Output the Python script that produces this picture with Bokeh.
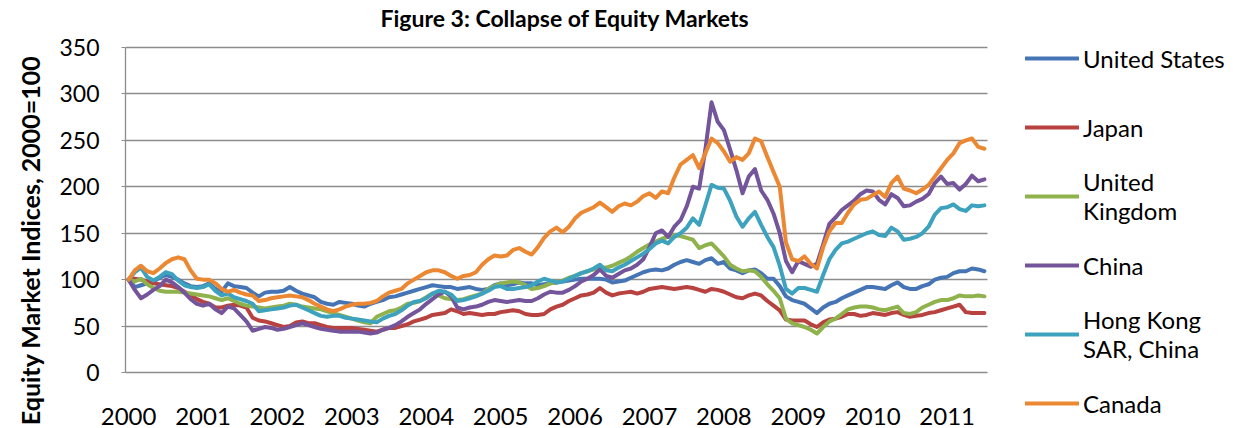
from bokeh.plotting import figure
from bokeh.models import Range1d, FixedTicker, Legend, LegendItem, Title
from bokeh.embed import file_html
from bokeh.resources import INLINE

# ---------------- data (monthly index, Jan 2000 = 100) ----------------
years = ["2000", "2001", "2002", "2003", "2004", "2005",
         "2006", "2007", "2008", "2009", "2010", "2011"]
months_per_year = 12
y_ticks = [0, 50, 100, 150, 200, 250, 300, 350]

united_states = [
    100, 92, 94, 96, 98, 102, 105, 103, 100, 96,
    93, 92, 93, 96, 90, 87, 96, 93, 92, 91,
    86, 82, 86, 87, 87, 88, 92, 88, 85, 83,
    81, 76, 74, 73, 76, 75, 74, 72, 71, 74,
    76, 78, 81, 82, 84, 86, 88, 90, 92, 94,
    93, 92, 92, 90, 91, 92, 90, 89, 90, 94,
    96, 94, 95, 97, 96, 96, 94, 95, 96, 97,
    98, 99, 100, 101, 101, 101, 101, 100, 97, 98,
    99, 102, 105, 108, 110, 111, 110, 112, 116, 119,
    121, 119, 117, 121, 123, 117, 119, 112, 110, 107,
    110, 111, 107, 101, 101, 93, 82, 78, 76, 74,
    69, 64, 70, 74, 76, 80, 83, 86, 89, 92,
    92, 91, 90, 94, 97, 92, 90, 90, 93, 95,
    100, 102, 103, 107, 109, 109, 112, 111, 109]

japan = [
    100, 101, 100, 98, 96, 95, 94, 93, 91, 87,
    84, 79, 76, 74, 70, 70, 72, 73, 72, 70,
    59, 56, 55, 53, 51, 49, 50, 54, 55, 53,
    53, 51, 49, 48, 48, 48, 48, 47, 46, 45,
    44, 46, 48, 48, 50, 52, 55, 57, 59, 62,
    63, 64, 68, 66, 63, 64, 63, 62, 63, 63,
    65, 66, 67, 66, 63, 62, 62, 63, 68, 71,
    73, 77, 80, 83, 84, 86, 91, 86, 83, 85,
    86, 87, 85, 87, 90, 91, 92, 91, 90, 91,
    92, 91, 89, 87, 90, 89, 87, 84, 81, 80,
    83, 85, 83, 77, 72, 67, 57, 56, 56, 56,
    52, 49, 54, 57, 58, 60, 63, 63, 61, 62,
    64, 63, 62, 64, 65, 62, 60, 61, 62, 64,
    65, 67, 69, 71, 73, 65, 64, 64, 64]

united_kingdom = [
    100, 98, 101, 95, 91, 88, 87, 87, 87, 86,
    85, 84, 83, 82, 80, 78, 80, 77, 74, 72,
    71, 70, 69, 70, 71, 72, 74, 73, 71, 70,
    69, 68, 66, 64, 62, 60, 58, 56, 54, 53,
    60, 63, 66, 67, 70, 74, 75, 77, 81, 85,
    83, 80, 79, 78, 79, 81, 83, 85, 90, 93,
    96, 97, 98, 97, 94, 90, 91, 93, 96, 97,
    99, 102, 104, 107, 109, 111, 112, 113, 115, 118,
    121, 125, 130, 134, 138, 141, 144, 146, 148, 147,
    145, 143, 134, 137, 139, 132, 125, 116, 112, 109,
    110, 109, 103, 95, 88, 80, 58, 53, 51, 49,
    46, 42, 49, 55, 58, 63, 68, 70, 71, 71,
    70, 68, 67, 69, 71, 64, 63, 65, 70, 73,
    76, 78, 78, 80, 83, 82, 82, 83, 82]

china = [
    100, 89, 80, 84, 89, 93, 100, 97, 92, 86,
    79, 74, 72, 74, 68, 64, 71, 69, 62, 55,
    45, 47, 49, 48, 46, 47, 49, 51, 53, 51,
    49, 47, 46, 45, 44, 44, 44, 44, 43, 42,
    43, 46, 48, 51, 55, 60, 64, 68, 74, 79,
    84, 87, 82, 70, 68, 70, 71, 73, 76, 78,
    77, 76, 77, 78, 77, 77, 80, 84, 87, 86,
    86, 89, 93, 98, 101, 105, 111, 104, 102, 106,
    110, 112, 116, 122, 135, 150, 153, 146, 157, 164,
    179, 200, 198, 240, 291, 270, 261, 240, 218, 193,
    211, 219, 196, 186, 171, 150, 120, 108, 120, 117,
    114, 117, 138, 160, 167, 175, 180, 185, 192, 196,
    195, 186, 181, 192, 188, 179, 180, 184, 187, 192,
    204, 211, 203, 204, 197, 203, 212, 206, 208]

hong_kong = [
    100, 108, 113, 103, 99, 103, 108, 106, 99, 94,
    92, 91, 92, 95, 88, 83, 85, 81, 79, 77,
    74, 66, 67, 68, 69, 70, 72, 73, 70, 67,
    64, 61, 60, 61, 61, 59, 58, 57, 56, 55,
    54, 58, 61, 63, 67, 72, 76, 77, 80, 85,
    88, 87, 84, 77, 78, 80, 82, 85, 88, 92,
    93, 90, 90, 91, 92, 94, 98, 101, 99, 97,
    98, 101, 104, 107, 109, 112, 116, 110, 109, 113,
    116, 120, 124, 128, 133, 139, 142, 139, 146, 150,
    156, 166, 159, 180, 202, 199, 198, 185, 168, 157,
    166, 173, 159, 146, 135, 115, 90, 85, 91, 91,
    89, 87, 105, 122, 132, 139, 141, 144, 147, 150,
    152, 148, 147, 156, 152, 143, 144, 146, 150, 157,
    170, 177, 178, 181, 176, 174, 180, 179, 180]

canada = [
    100, 110, 115, 109, 107, 112, 118, 122, 124, 122,
    110, 101, 100, 100, 96, 90, 87, 89, 86, 84,
    83, 77, 78, 80, 81, 82, 83, 82, 81, 78,
    74, 71, 68, 66, 68, 71, 73, 74, 74, 75,
    77, 82, 86, 88, 90, 96, 100, 104, 108, 110,
    110, 108, 104, 101, 104, 105, 108, 116, 122, 126,
    125, 126, 132, 134, 130, 127, 135, 145, 152, 156,
    151, 157, 166, 172, 175, 178, 183, 178, 173, 179,
    182, 180, 184, 190, 193, 188, 195, 193, 210, 224,
    229, 234, 220, 236, 252, 247, 238, 227, 232, 229,
    236, 252, 249, 232, 216, 200, 140, 122, 120, 125,
    117, 112, 135, 152, 161, 161, 172, 181, 186, 187,
    191, 195, 189, 204, 211, 198, 196, 193, 197, 202,
    211, 220, 229, 236, 247, 250, 252, 243, 241]

series_names = ["United States", "Japan", "United\nKingdom", "China",
                "Hong Kong\nSAR, China", "Canada"]
series_values = [united_states, japan, united_kingdom, china, hong_kong, canada]
series_colors = ["#4675B6", "#B8423F", "#8FB24C", "#74559C", "#3DA2BD", "#EC8732"]

n = len(united_states)
month_index = list(range(n))

# ---------------- layout constants (pixels) ----------------
FONT = "Lato"
GRID = "#8C8C8C"
W, H = 1233, 428
AXIS_LEFT, PLOT_RIGHT = 121, 983          # data area, horizontally
PLOT_TOP, PLOT_BOTTOM = 47, 372           # y=350 and y=0
FRAME_TOP = 29                            # frame starts higher so the legend can sit at the top
LEGEND_GAP = 38                           # gap between data area and legend glyphs

px_per_month = (PLOT_RIGHT - AXIS_LEFT) / n
x_end = n - 0.5 + LEGEND_GAP / px_per_month
y_max = y_ticks[-1]
y_end = y_max * (PLOT_BOTTOM - FRAME_TOP) / (PLOT_BOTTOM - PLOT_TOP)

p = figure(width=W, height=H, output_backend="svg", toolbar_location=None,
           frame_width=PLOT_RIGHT + LEGEND_GAP - AXIS_LEFT,
           frame_height=PLOT_BOTTOM - FRAME_TOP,
           x_range=Range1d(-0.5, x_end), y_range=Range1d(0, y_end),
           min_border_left=AXIS_LEFT, min_border_right=W - PLOT_RIGHT - LEGEND_GAP,
           min_border_top=FRAME_TOP, min_border_bottom=H - PLOT_BOTTOM,
           background_fill_color="white", border_fill_color="white",
           outline_line_color=None)

p.title.text = "Figure 3: Collapse of Equity Markets"
p.title.align = "left"
p.title.offset = 255
p.title.text_font = FONT
p.title.text_font_size = "23px"
p.title.text_font_style = "bold"
p.title.text_color = "black"
p.title.standoff = -4

items = []
for name, vals, col in zip(series_names, series_values, series_colors):
    r = p.line(month_index, vals, line_color=col, line_width=4,
               line_join="round", line_cap="round")
    items.append(LegendItem(label=name, renderers=[r]))

legend = Legend(items=items, location="top_left", padding=0, margin=0,
                glyph_width=54, glyph_height=20, label_standoff=4,
                label_height=58, spacing=11,
                label_text_font=FONT, label_text_font_size="24px",
                label_text_color="black", border_line_color=None,
                background_fill_alpha=0)
if "ncols" in legend.properties():
    legend.ncols = 1
p.add_layout(legend, "right")

# x axis
p.xaxis.bounds = (-0.5, n - 0.5)
p.xaxis.ticker = FixedTicker(ticks=[k * months_per_year for k in range(len(years))])
p.xaxis.major_label_overrides = {k * months_per_year: y for k, y in enumerate(years)}
p.xaxis.major_tick_out = 0
p.xaxis.major_tick_in = 0
p.xaxis.minor_tick_out = 0
p.xaxis.minor_tick_in = 0
p.xaxis.axis_line_color = GRID
p.xaxis.axis_line_width = 1.3
p.xaxis.major_label_text_font = FONT
p.xaxis.major_label_text_font_size = "24px"
p.xaxis.major_label_text_color = "black"
p.xaxis.major_label_standoff = 35

# y axis
p.yaxis.bounds = (0, y_max)
p.yaxis.ticker = FixedTicker(ticks=y_ticks)
p.yaxis.major_tick_out = 4
p.yaxis.major_tick_in = 0
p.yaxis.minor_tick_out = 0
p.yaxis.minor_tick_in = 0
p.yaxis.major_tick_line_color = GRID
p.yaxis.axis_line_color = GRID
p.yaxis.axis_line_width = 1.3
p.yaxis.major_label_text_font = FONT
p.yaxis.major_label_text_font_size = "23px"
p.yaxis.major_label_text_color = "black"
p.yaxis.major_label_standoff = 22

ytitle = Title(text="Equity Market Indices, 2000=100", align="right",
               text_font=FONT, text_font_size="25px", text_font_style="bold",
               text_color="black", standoff=24, offset=PLOT_TOP - FRAME_TOP + 8)
p.add_layout(ytitle, "left")

# horizontal gridlines limited to the data area
p.xgrid.grid_line_color = None
ygrid = p.ygrid[0]
if "cross_bounds" in ygrid.properties():
    ygrid.cross_bounds = (-0.5, n - 0.5)
    ygrid.grid_line_color = GRID
    ygrid.grid_line_width = 1.3
else:
    ygrid.grid_line_color = None
    p.segment(x0=[-0.5] * len(y_ticks), x1=[n - 0.5] * len(y_ticks),
              y0=y_ticks, y1=y_ticks, line_color=GRID, line_width=1.3,
              level="underlay")

open("out.html", "w").write(file_html(p, INLINE))
